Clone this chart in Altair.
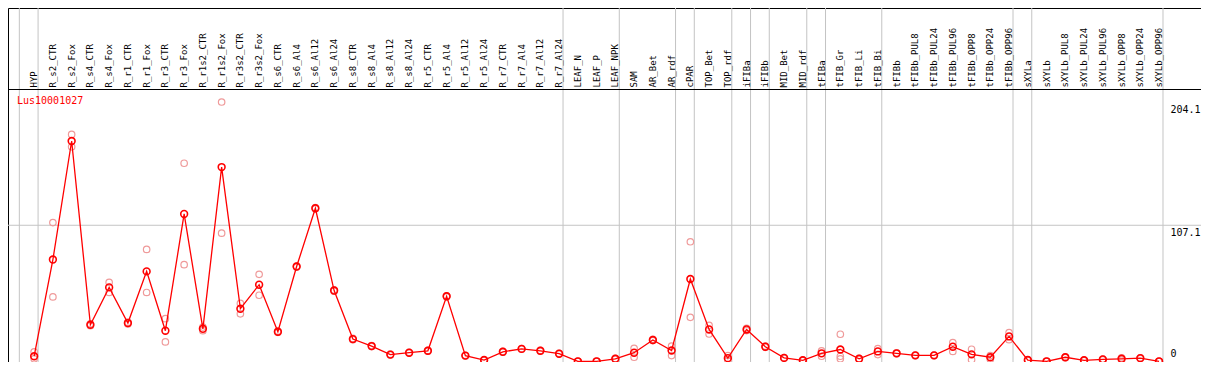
import altair as alt
import pandas as pd

# ---------------- data ----------------
categories = [
    "HYP", "R_s2_CTR", "R_s2_Fox", "R_s4_CTR", "R_s4_Fox", "R_r1_CTR", "R_r1_Fox",
    "R_r3_CTR", "R_r3_Fox", "R_r1s2_CTR", "R_r1s2_Fox", "R_r3s2_CTR", "R_r3s2_Fox",
    "R_s6_CTR", "R_s6_Al4", "R_s6_Al12", "R_s6_Al24", "R_s8_CTR", "R_s8_Al4",
    "R_s8_Al12", "R_s8_Al24", "R_r5_CTR", "R_r5_Al4", "R_r5_Al12", "R_r5_Al24",
    "R_r7_CTR", "R_r7_Al4", "R_r7_Al12", "R_r7_Al24", "LEAF_N", "LEAF_P", "LEAF_NPK",
    "SAM", "AR_Bet", "AR_rdf", "cPAR", "TOP_Bet", "TOP_rdf", "iFIBa", "iFIBb",
    "MID_Bet", "MID_rdf", "tFIBa", "tFIB_Gr", "tFIB_Li", "tFIB_Bi", "tFIBb",
    "tFIBb_PUL8", "tFIBb_PUL24", "tFIBb_PUL96", "tFIBb_OPP8", "tFIBb_OPP24",
    "tFIBb_OPP96", "sXYLa", "sXYLb", "sXYLb_PUL8", "sXYLb_PUL24", "sXYLb_PUL96",
    "sXYLb_OPP8", "sXYLb_OPP24", "sXYLb_OPP96",
]

mean_vals = [
    4.0, 80.1, 173.4, 28.8, 58.2, 30.1, 70.8, 24.1, 116.0, 25.6, 152.9, 41.4, 60.3,
    23.3, 74.6, 120.5, 55.7, 17.5, 12.0, 5.3, 6.8, 8.3, 51.2, 4.5, 1.0, 7.5, 9.8,
    8.3, 6.0, 0.0, 0.0, 2.0, 6.8, 16.8, 8.5, 64.8, 25.1, 2.5, 25.1, 11.5, 2.7, 0.8,
    6.3, 9.3, 2.0, 7.8, 6.3, 4.7, 4.7, 11.5, 5.5, 3.2, 19.6, 1.0, 0.0, 3.2, 0.8,
    1.5, 2.0, 2.5, 0.0,
]

rep_hi = [
    7.5, 109.2, 178.6, 29.5, 62.2, 30.8, 88.1, 33.6, 155.9, 27.0, 204.1, 45.6, 68.5,
    23.8, 75.0, 121.0, 56.2, 18.0, 12.4, 5.6, 7.1, 8.6, 51.6, 4.8, 1.2, 7.8, 10.1,
    8.6, 6.3, 0.0, 0.0, 2.3, 10.2, 17.3, 12.0, 94.1, 28.3, 4.5, 26.0, 12.0, 3.0, 1.0,
    8.3, 21.3, 2.3, 10.0, 6.6, 5.0, 5.0, 14.8, 9.5, 4.5, 22.6, 1.2, 0.0, 3.5, 1.0,
    1.8, 2.8, 2.8, 0.0,
]

rep_lo = [
    2.0, 50.7, 168.8, 28.0, 54.2, 29.4, 54.2, 15.3, 76.1, 24.1, 100.9, 37.4, 52.0,
    22.8, 74.2, 120.0, 55.2, 17.0, 11.6, 5.0, 6.5, 8.0, 50.8, 4.2, 0.8, 7.2, 9.5,
    8.0, 5.7, 0.0, 0.0, 1.7, 3.2, 16.3, 4.5, 34.6, 21.5, 1.0, 24.2, 11.0, 2.4, 0.6,
    4.0, 2.0, 1.7, 5.3, 6.0, 4.4, 4.4, 7.8, 1.2, 1.7, 17.0, 0.8, 0.0, 2.9, 0.6,
    1.2, 1.0, 2.2, 0.0,
]

rep_extra = [None] * len(categories)
rep_extra[43] = 4.0  # tFIB_Gr third replicate

# index (0-based) of the last sample of each group; a grey separator follows it
group_ends = [-1, 0, 28, 31, 34, 35, 37, 38, 39, 41, 42, 45, 52, 53, 60]

tick_values = [204.1, 107.1]
tick_labels = ["204.1", "107.1"]
zero_label = "0"
gene_name = "Lus10001027"

# ---------------- layout ----------------
W, H = 1193, 354
FONT = "DejaVu Sans Mono"
x_scale = alt.Scale(domain=[-26.5 / 19, (1209 - 26.5) / 19], nice=False, zero=False)
y_scale = alt.Scale(domain=[-0.53, 278.1], nice=False, zero=False)

idx = list(range(len(categories)))
cat_df = pd.DataFrame({"idx": idx, "cat": categories, "mean": mean_vals})

reps = []
for i in idx:
    for v in (rep_hi[i], rep_lo[i], rep_extra[i]):
        if v is not None:
            reps.append({"idx": i, "v": v})
rep_df = pd.DataFrame(reps)

sep_df = pd.DataFrame({"b": [g + 0.21 for g in group_ends]})
grid_df = pd.DataFrame({"v": [107.1]})
tick_df = pd.DataFrame({"v": tick_values, "label": tick_labels})
zero_df = pd.DataFrame({"label": [zero_label]})
name_df = pd.DataFrame({"label": [gene_name]})

X = alt.X("idx:Q", scale=x_scale, axis=None)

separators = alt.Chart(sep_df).mark_rule(color="#c4c4c4", strokeWidth=1).encode(
    x=alt.X("b:Q", scale=x_scale, axis=None), y=alt.value(0), y2=alt.value(H)
)

hgrid = alt.Chart(grid_df).mark_rule(color="#c4c4c4", strokeWidth=1).encode(
    y=alt.Y("v:Q", scale=y_scale, axis=None), x=alt.value(0), x2=alt.value(W)
)

header_line = alt.Chart(name_df).mark_rule(color="black", strokeWidth=1).encode(
    y=alt.value(81.5), x=alt.value(0), x2=alt.value(W)
)

header = alt.Chart(cat_df).mark_text(
    angle=270, align="left", baseline="middle", font=FONT, fontSize=9, color="black"
).encode(x=X, y=alt.value(79.5), text="cat:N")

rep_pts = alt.Chart(rep_df).mark_point(
    shape="circle", filled=False, color="#ef9a9a", strokeWidth=1.2, size=42,
    opacity=1, clip=True
).encode(x=X, y=alt.Y("v:Q", scale=y_scale, axis=None))

line = alt.Chart(cat_df).mark_line(color="#ff0000", strokeWidth=1.3, clip=True).encode(
    x=X, y=alt.Y("mean:Q", scale=y_scale, axis=None)
)

mean_pts = alt.Chart(cat_df).mark_point(
    shape="circle", filled=False, color="#ff0000", strokeWidth=1.6, size=46,
    opacity=1, clip=True
).encode(x=X, y=alt.Y("mean:Q", scale=y_scale, axis=None))

ticks = alt.Chart(tick_df).mark_text(
    align="left", baseline="top", dy=3, font=FONT, fontSize=10, color="black"
).encode(x=alt.value(1162.5), y=alt.Y("v:Q", scale=y_scale, axis=None), text="label:N")

zero_tick = alt.Chart(zero_df).mark_text(
    align="left", baseline="bottom", font=FONT, fontSize=10, color="black"
).encode(x=alt.value(1162.5), y=alt.value(H - 3), text="label:N")

name = alt.Chart(name_df).mark_text(
    align="left", baseline="middle", font=FONT, fontSize=10, color="#ff0000"
).encode(x=alt.value(9), y=alt.value(93), text="label:N")

chart = alt.layer(
    separators, hgrid, header_line, header, rep_pts, line, mean_pts, ticks, zero_tick, name
).properties(
    width=W, height=H, padding=0, autosize=alt.AutoSizeParams(type="none")
).configure_view(stroke="black", strokeWidth=1)

chart.save("out.html", embed_options={"renderer": "svg", "actions": False})
